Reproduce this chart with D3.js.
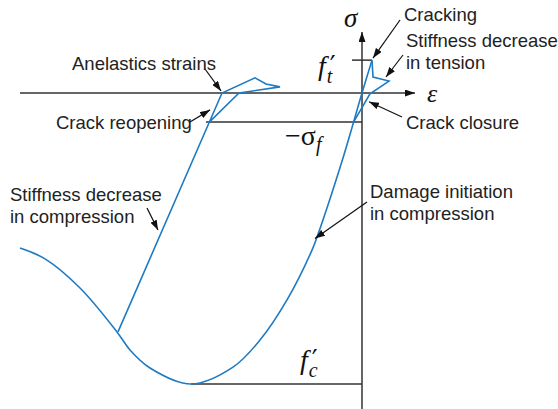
<!DOCTYPE html>
<html>
<head>
<meta charset="utf-8">
<script src="https://cdn.jsdelivr.net/npm/d3@7"></script>
<style>
  body { margin: 0; background: #fff; }
  svg { display: block; }
</style>
</head>
<body>
<div id="chart"></div>
<script>
// strain (eps) and stress (sigma, in units of f'c)
var envelope = [
    [-3.42, -0.533], [-3.17, -0.570], [-2.82, -0.670], [-2.45, -0.821], [-2.32, -0.883],
    [-2.12, -0.945], [-1.71, -1.0], [-1.29, -0.942], [-1.02, -0.849], [-0.75, -0.711],
    [-0.50, -0.540], [-0.45, -0.495], [-0.19, -0.223], [0, 0], [0.10, 0.113]
];
var tensionBranch = [[0.10, 0.113], [0.11, 0.055], [0.27, 0.041], [0.08, -0.003], [-0.085, -0.1]];
var unloadLoop = [
    [-2.44, -0.821], [-1.40, 0], [-1.07, 0.052], [-0.96, 0.031], [-0.82, 0.021],
    [-1.23, 0], [-1.527, -0.1]
];
var ft = 0.113;       // f't
var sigmaF = -0.1;    // -sigma_f
var fc = -1.0;        // f'c
var fcStrain = -1.71;
var sigmaFStrain = -1.56;

var annotations = [
    { lines: ["Anelastics strains"], target: [-1.41, 0.007], from: [205, 69], tx: 72, ty: 70 },
    { lines: ["Cracking"], target: [0.11, 0.12], from: [400, 20], tx: 404, ty: 21 },
    { lines: ["Stiffness decrease", "in tension"], target: [0.24, 0.055], from: [403, 55], tx: 406, ty: 47 },
    { lines: ["Crack closure"], target: [0.07, -0.03], from: [402, 117], tx: 406, ty: 129 },
    { lines: ["Crack reopening"], target: [-1.52, -0.058], from: [190, 122], tx: 56, ty: 129 },
    { lines: ["Stiffness decrease", "in compression"], target: [-2.04, -0.471], from: [147, 208], tx: 10, ty: 201 },
    { lines: ["Damage initiation", "in compression"], target: [-0.47, -0.5], from: [367, 202], tx: 370, ty: 198 }
];

var w = 558, h = 409;
var blue = "#1d7bc4", axisColor = "#333";

var xScale = d3.scaleLinear().domain([-3.42, 0]).range([20, 362]);
var yScale = d3.scaleLinear().domain([-1, 0]).range([384, 93]);

var svg = d3.select("#chart").append("svg").attr("width", w).attr("height", h);

svg.append("defs").append("marker")
    .attr("id", "arr")
    .attr("markerUnits", "userSpaceOnUse")
    .attr("viewBox", "0 0 10 7")
    .attr("refX", 10).attr("refY", 3.5)
    .attr("markerWidth", 10).attr("markerHeight", 7)
    .attr("orient", "auto")
    .append("path").attr("d", "M0,0 L10,3.5 L0,7 z").attr("fill", "#111");

// axes
svg.append("line")
    .attr("x1", 20).attr("x2", 415)
    .attr("y1", yScale(0)).attr("y2", yScale(0))
    .attr("stroke", axisColor).attr("stroke-width", 1.5)
    .attr("marker-end", "url(#arr)");
svg.append("line")
    .attr("x1", xScale(0)).attr("x2", xScale(0))
    .attr("y1", h).attr("y2", 32)
    .attr("stroke", axisColor).attr("stroke-width", 1.5)
    .attr("marker-end", "url(#arr)");

// reference levels
svg.append("line")
    .attr("x1", xScale(-0.10)).attr("x2", xScale(0.10))
    .attr("y1", yScale(ft)).attr("y2", yScale(ft))
    .attr("stroke", axisColor).attr("stroke-width", 1.5);
svg.append("line")
    .attr("x1", xScale(sigmaFStrain)).attr("x2", xScale(0))
    .attr("y1", yScale(sigmaF)).attr("y2", yScale(sigmaF))
    .attr("stroke", axisColor).attr("stroke-width", 1.5);
svg.append("line")
    .attr("x1", xScale(fcStrain)).attr("x2", xScale(0))
    .attr("y1", yScale(fc)).attr("y2", yScale(fc))
    .attr("stroke", axisColor).attr("stroke-width", 1.5);

// curves
var smooth = d3.line()
    .x(function (d) { return xScale(d[0]); })
    .y(function (d) { return yScale(d[1]); })
    .curve(d3.curveCatmullRom);
var straight = d3.line()
    .x(function (d) { return xScale(d[0]); })
    .y(function (d) { return yScale(d[1]); });

svg.append("path").attr("d", smooth(envelope))
    .attr("fill", "none").attr("stroke", blue).attr("stroke-width", 1.6);
svg.append("path").attr("d", straight(tensionBranch))
    .attr("fill", "none").attr("stroke", blue).attr("stroke-width", 1.6);
svg.append("path").attr("d", straight(unloadLoop))
    .attr("fill", "none").attr("stroke", blue).attr("stroke-width", 1.6);

// annotations
annotations.forEach(function (a) {
    svg.append("line")
        .attr("x1", a.from[0]).attr("y1", a.from[1])
        .attr("x2", xScale(a.target[0])).attr("y2", yScale(a.target[1]))
        .attr("stroke", "#111").attr("stroke-width", 1.2)
        .attr("marker-end", "url(#arr)");
    var t = svg.append("text")
        .attr("font-family", "Liberation Sans, Arial, sans-serif")
        .attr("font-size", "18.5px")
        .attr("fill", "#222");
    a.lines.forEach(function (l, i) {
        t.append("tspan").attr("x", a.tx).attr("y", a.ty + i * 22).text(l);
    });
});

// math labels: main symbol, then prime / subscript as tspans of one text
function mathLabel(x, y, main, sup, sub, mainItalic) {
    var t = svg.append("text")
        .attr("x", x).attr("y", y)
        .attr("font-family", "Liberation Serif, Times New Roman, serif")
        .attr("font-size", "28px")
        .attr("fill", "#111");
    t.append("tspan").attr("font-style", mainItalic ? "italic" : "normal").text(main);
    if (sup) {
        t.append("tspan").attr("font-size", "26px").attr("font-family", "DejaVu Serif, serif")
            .attr("dy", -1).attr("dx", 4).text(sup);
        t.append("tspan").attr("font-size", "20px").attr("font-style", "italic")
            .attr("dy", 9).attr("dx", -9).text(sub);
    } else if (sub) {
        t.append("tspan").attr("font-size", "20px").attr("font-style", "italic")
            .attr("dy", 6).text(sub);
    }
    return t;
}
svg.append("text").attr("x", 344).attr("y", 27)
    .attr("font-family", "Liberation Serif, serif").attr("font-style", "italic")
    .attr("font-size", "27px").attr("fill", "#111").text("σ");
svg.append("text").attr("x", 427).attr("y", 102)
    .attr("font-family", "Liberation Serif, serif").attr("font-style", "italic")
    .attr("font-size", "26px").attr("fill", "#111").text("ε");
mathLabel(318, 75, "f", "′", "t", true);
mathLabel(285, 145, "−σ", null, "f", false);
mathLabel(300, 369, "f", "′", "c", true);
</script>
</body>
</html>
